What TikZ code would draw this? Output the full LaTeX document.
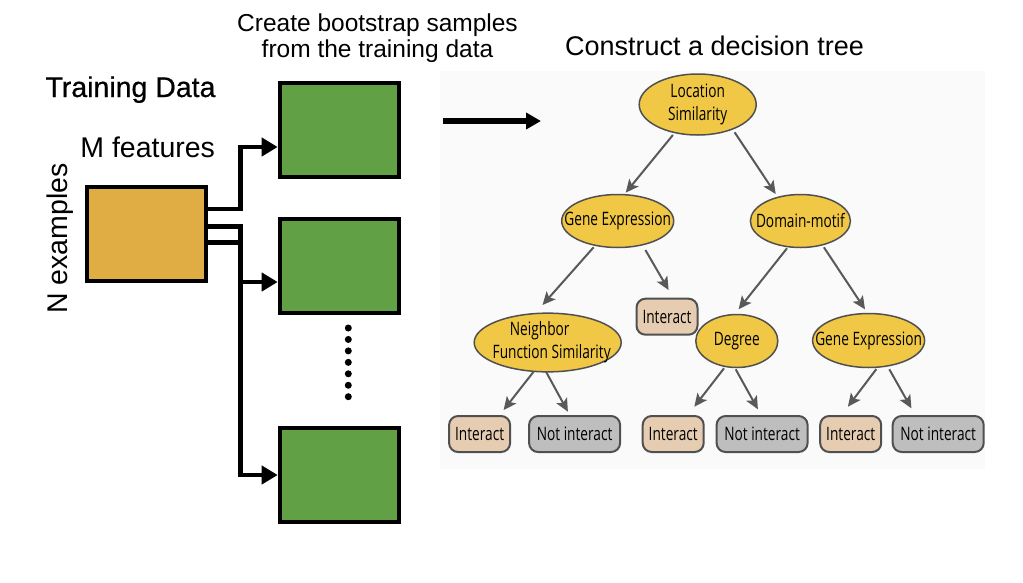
\documentclass[tikz,border=0pt]{standalone}
\usepackage{fontspec}
\setmainfont{Liberation Sans}
\newfontfamily\treefont[FakeStretch=0.74]{Open Sans}
\newfontfamily\tdfont[FakeBold=0.6]{Liberation Sans}
\usetikzlibrary{shapes.geometric,arrows.meta,calc}
\definecolor{orangebox}{HTML}{E0AD45}
\definecolor{greenbox}{HTML}{62A046}
\definecolor{ellfill}{HTML}{F0C846}
\definecolor{intfill}{HTML}{E6CDB2}
\definecolor{notfill}{HTML}{BEBEBE}
\definecolor{edgegray}{HTML}{505050}
\definecolor{arrgray}{HTML}{595959}
\definecolor{panelbg}{HTML}{FAFAFA}
\newcommand{\zw}[1]{\makebox[0pt][c]{#1}}
\begin{document}
\begin{tikzpicture}[x=1pt,y=-1pt,
  bigtext/.style={font=\fontsize{28.5}{34}\selectfont, inner sep=0},
  midtext/.style={font=\fontsize{24.5}{25.5}\selectfont, inner sep=0, align=center},
  databox/.style={draw=black, line width=4pt, minimum width=119pt, minimum height=94pt, inner sep=0},
  blk/.style={line width=4.7pt, draw=black},
  blkarrow/.style={blk, -{Triangle[length=16pt,width=18pt]}},
  ell/.style={ellipse, draw=edgegray, line width=1.5pt, fill=ellfill, inner sep=0,
    font=\treefont\fontsize{18.5}{23}\selectfont, align=center, text=black},
  leaf/.style={rectangle, rounded corners=9pt, draw=edgegray, line width=2pt, inner sep=0,
    minimum height=36pt, font=\treefont\fontsize{18.5}{23}\selectfont, text=black},
  leafI/.style={leaf, fill=intfill, minimum width=61pt},
  leafN/.style={leaf, fill=notfill, minimum width=91pt},
  tarrow/.style={draw=arrgray, line width=2pt, -{Stealth[length=13pt,width=12pt,inset=3pt]}}
]
\useasboundingbox (0,0) rectangle (1023,582);
\fill[white] (0,0) rectangle (1023,582);
\fill[panelbg] (440,71) rectangle (985,469);

% left labels
\node[bigtext, font=\tdfont\fontsize{28.5}{34}\selectfont, anchor=base] (td) at (130.5,97) {Training Data};
\node[bigtext, anchor=base] (mf) at (147.7,157.5) {M features};
\node[bigtext, anchor=base, rotate=90] (ne) at (67.5,238.5) {N examples};
\node[midtext, anchor=base] (cb) at (377.5,57.3) {Create bootstrap samples\\from the training data};
\node[font=\fontsize{27}{30}\selectfont, inner sep=0, anchor=base] (ct) at (714.5,55.7) {Construct a decision tree};

% data boxes
\node[databox, fill=orangebox, minimum width=119pt, minimum height=93.7pt] (orange) at (146.7,234) {};
\node[databox, fill=greenbox] (box1) at (339.2,129.8) {};
\node[databox, fill=greenbox] (box2) at (339.2,266.3) {};
\node[databox, fill=greenbox] (box3) at (339.2,475) {};

% connectors
\coordinate (j1) at (240.5,147);
\coordinate (j2) at (240.5,282);
\coordinate (j3) at (240.5,475);
\draw[blkarrow] ($(orange.east)+(0,-25)$) -| (j1) -- (j1 -| box1.west);
\draw[blkarrow] ($(orange.east)+(0,-7.3)$) -| (j3) -- (j3 -| box3.west);
\draw[blk] ($(orange.east)+(0,8.2)$) -| (j2);
\draw[blkarrow] (j2) -- (j2 -| box2.west);

% dots
\foreach \i in {0,...,6} \fill (348.3,{328+11.45*\i}) circle[radius=3.5pt];

% big arrow
\coordinate (ba) at (443,121);
\coordinate (bb) at (541,121);
\draw[line width=5.5pt, -{Triangle[length=15pt,width=16pt]}] (ba) -- (bb);

% tree nodes
\node[ell, minimum width=117pt, minimum height=61pt] (root) at (697.7,104.5) {\zw{Location}\\\zw{Similarity}};
\node[ell, minimum width=112pt, minimum height=53pt] (ge1) at (617.7,221) {\zw{Gene Expression}};
\node[ell, minimum width=100pt, minimum height=53pt] (dm) at (800.4,221) {\zw{Domain-motif}};
\node[ell, minimum width=147pt, minimum height=56pt] (nfs) at (547.7,342.5) {\zw{\hspace*{-16pt}Neighbor}\\\zw{\hspace*{8pt}Function Similarity}};
\node[leafI] (mI) at (667,316.7) {Interact};
\node[ell, minimum width=82pt, minimum height=53pt] (deg) at (736.8,341) {\zw{Degree}};
\node[ell, minimum width=112pt, minimum height=54pt] (ge2) at (868.6,340.5) {\zw{Gene Expression}};
\node[leafI] (I1) at (479.6,434) {Interact};
\node[leafN] (N1) at (574.6,434) {Not interact};
\node[leafI] (I2) at (673.2,434) {Interact};
\node[leafN] (N2) at (762.1,434) {Not interact};
\node[leafI] (I3) at (850.7,434) {Interact};
\node[leafN] (N3) at (938.2,434) {Not interact};

% tree arrows
\draw[tarrow] ($(root)+(-24.8,30.5)$) -- ($(ge1)+(8,-28.3)$);
\draw[tarrow] ($(root)+(36.9,27.8)$) -- ($(dm)+(-24.7,-27)$);
\draw[tarrow] ($(ge1)+(-24.1,26.3)$) -- ($(nfs)+(-5.2,-37.5)$);
\draw[tarrow] ($(ge1)+(27.7,29)$) -- ($(mI)+(1.6,-26.7)$);
\draw[tarrow] ($(dm)+(-13.4,27.3)$) -- ($(deg)+(1.8,-31.7)$);
\draw[tarrow] ($(dm)+(23.5,26.3)$) -- ($(ge2)+(-3.6,-31.2)$);
\draw[tarrow] ($(nfs)+(-14.1,29.2)$) -- ($(I1)+(24,-24)$);
\draw[tarrow] ($(nfs)+(-1.7,29.2)$) -- ($(N1)+(-6.7,-22.3)$);
\draw[tarrow] ($(deg)+(-12.8,27.3)$) -- ($(I2)+(21.1,-27.3)$);
\draw[tarrow] ($(deg)+(-1.1,28.3)$) -- ($(N2)+(-4.2,-24.7)$);
\draw[tarrow] ($(ge2)+(7.8,28.5)$) -- ($(I3)+(-2.8,-27.3)$);
\draw[tarrow] ($(ge2)+(20.7,28.8)$) -- ($(N3)+(-26.8,-25.7)$);
\end{tikzpicture}
\end{document}
